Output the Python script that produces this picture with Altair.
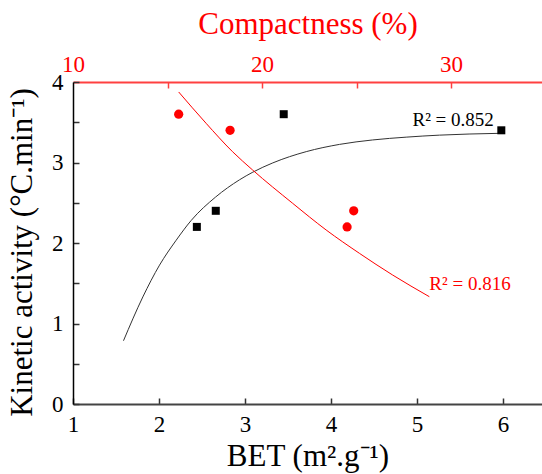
import altair as alt
import pandas as pd

# BET specific surface vs kinetic activity
bet = [2.44, 2.66, 3.45, 5.98]
bet_activity = [2.2, 2.4, 3.6, 3.4]

# Compactness vs kinetic activity
compactness = [15.59, 18.31, 24.50, 24.85]
comp_activity = [3.6, 3.4, 2.2, 2.4]

# Saturating trend line through the BET series
bet_fit_x = [1.587, 1.812, 2.006, 2.200, 2.374, 2.657, 2.936, 3.091, 3.323,
             3.712, 4.099, 4.483, 4.874, 5.262, 5.948]
bet_fit_y = [0.786, 1.330, 1.725, 2.035, 2.280, 2.570, 2.785, 2.880, 2.995,
             3.135, 3.225, 3.280, 3.315, 3.340, 3.362]

# Decreasing trend line through the compactness series
comp_fit_x = [15.59, 17.04, 18.44, 19.50, 21.62, 23.39, 25.15, 26.91, 28.85]
comp_fit_y = [3.876, 3.487, 3.134, 2.907, 2.493, 2.162, 1.872, 1.602, 1.333]

# Goodness-of-fit annotations (x in each series' own units)
r2_text = ["R² = 0.852", "R² = 0.816"]
r2_x = [5.42, 31.0]
r2_y = [3.457, 1.411]

FONT = "Liberation Serif"
RED = "#ff0000"
W, H = 469, 322

black_df = pd.DataFrame({"bet": bet, "activity": bet_activity})
red_df = pd.DataFrame({"comp": compactness, "activity": comp_activity})
black_fit = pd.DataFrame({"x": bet_fit_x, "y": bet_fit_y})
red_fit = pd.DataFrame({"x": comp_fit_x, "y": comp_fit_y})
black_note = pd.DataFrame({"x": [r2_x[0]], "y": [r2_y[0]], "t": [r2_text[0]]})
red_note = pd.DataFrame({"x": [r2_x[1]], "y": [r2_y[1]], "t": [r2_text[1]]})

y_scale = alt.Scale(domain=[0, 4], nice=False, zero=False)
bet_scale = alt.Scale(domain=[1, 6.453], nice=False, zero=False)
comp_scale = alt.Scale(domain=[10, 34.81], nice=False, zero=False)

common = dict(grid=False, labelFont=FONT, titleFont=FONT, titleFontWeight="normal",
              labelFlush=False)

y_axis = alt.Axis(
    title="Kinetic activity (°C.min⁻¹)", orient="left", values=[0, 1, 2, 3, 4], format="d",
    ticks=False, tickSize=0, domainColor="black", domainWidth=1.5,
    labelFontSize=23, labelColor="black", labelPadding=10,
    titleFontSize=31, titleColor="black", titlePadding=13, titleY=170, **common)

bet_axis = alt.Axis(
    title="BET (m².g⁻¹)", orient="bottom", values=[1, 2, 3, 4, 5, 6], format="d",
    ticks=False, tickSize=0, domainColor="#444444", domainWidth=2,
    labelFontSize=23, labelColor="black", labelPadding=9,
    titleFontSize=31, titleColor="black", titlePadding=5, **common)

comp_axis = alt.Axis(
    title="Compactness (%)", orient="top", values=[10, 20, 30], format="d",
    ticks=False, tickSize=0, domainColor="#ff4040", domainWidth=2,
    labelFontSize=23, labelColor=RED, labelPadding=6,
    titleFontSize=31, titleColor=RED, titlePadding=13, **common)

# inward-pointing ticks, drawn by axes moved onto the opposite frame edge
bet_ticks = alt.Axis(orient="top", offset=-H, values=[1, 2, 3, 4, 5, 6], labels=False,
                     domain=False, title=None, grid=False, tickSize=6, tickColor="#333333",
                     tickWidth=1.5)
y_ticks = alt.Axis(orient="right", offset=-W, values=[0, 0.5, 1, 1.5, 2, 2.5, 3, 3.5, 4],
                   labels=False, domain=False, title=None, grid=False, tickSize=6,
                   tickColor="#333333", tickWidth=1.5)
comp_ticks = alt.Axis(orient="bottom", offset=-H, values=[15, 20, 25, 30], labels=False,
                      domain=False, title=None, grid=False, tickSize=6, tickColor="#ff4040",
                      tickWidth=1.5)

squares = alt.Chart(black_df).mark_square(size=64, color="black", opacity=1).encode(
    x=alt.X("bet:Q", scale=bet_scale, axis=bet_axis),
    y=alt.Y("activity:Q", scale=y_scale, axis=y_axis),
)
black_line = alt.Chart(black_fit).mark_line(
    color="#333333", strokeWidth=1, interpolate="monotone").encode(
    x=alt.X("x:Q", scale=bet_scale, axis=None),
    y=alt.Y("y:Q", scale=y_scale, axis=None),
)
black_label = alt.Chart(black_note).mark_text(
    font=FONT, fontSize=19, color="black", align="center", baseline="alphabetic").encode(
    x=alt.X("x:Q", scale=bet_scale, axis=None),
    y=alt.Y("y:Q", scale=y_scale, axis=None),
    text="t:N",
)
black_tick_layer = alt.Chart(black_df).mark_point(opacity=0).encode(
    x=alt.X("bet:Q", scale=bet_scale, axis=bet_ticks),
    y=alt.Y("activity:Q", scale=y_scale, axis=y_ticks),
)

circles = alt.Chart(red_df).mark_circle(size=85, color=RED, opacity=1).encode(
    x=alt.X("comp:Q", scale=comp_scale, axis=comp_axis),
    y=alt.Y("activity:Q", scale=y_scale, axis=None),
)
red_line = alt.Chart(red_fit).mark_line(
    color=RED, strokeWidth=1, interpolate="monotone").encode(
    x=alt.X("x:Q", scale=comp_scale, axis=None),
    y=alt.Y("y:Q", scale=y_scale, axis=None),
)
red_label = alt.Chart(red_note).mark_text(
    font=FONT, fontSize=19, color=RED, align="center", baseline="alphabetic").encode(
    x=alt.X("x:Q", scale=comp_scale, axis=None),
    y=alt.Y("y:Q", scale=y_scale, axis=None),
    text="t:N",
)
red_tick_layer = alt.Chart(red_df).mark_point(opacity=0).encode(
    x=alt.X("comp:Q", scale=comp_scale, axis=comp_ticks),
    y=alt.Y("activity:Q", scale=y_scale, axis=None),
)

chart = alt.layer(
    black_tick_layer, red_tick_layer,
    black_line, red_line,
    squares, circles,
    black_label, red_label,
).resolve_scale(x="independent").resolve_axis(x="independent", y="independent").properties(
    width=W, height=H,
    padding={"left": 73, "top": 82, "right": 0, "bottom": 70},
    autosize=alt.AutoSizeParams(type="none"),
).configure_view(stroke=None)

chart.save("out.html", embed_options={"renderer": "svg", "actions": False})
